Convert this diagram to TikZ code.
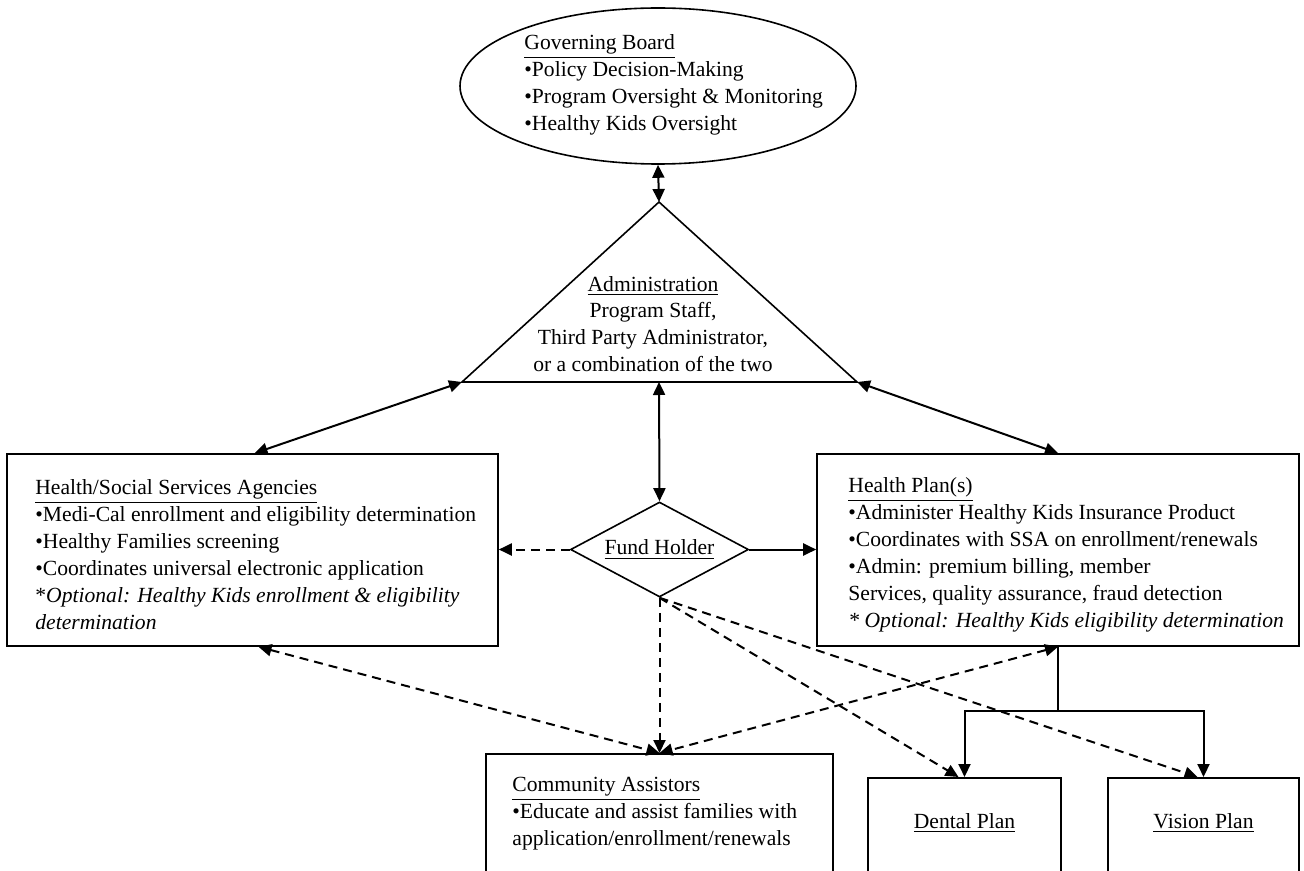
\documentclass[tikz,border=0pt]{standalone}
\usepackage{fontspec}
\setmainfont{Liberation Serif}
\usetikzlibrary{shapes.geometric,arrows.meta}

\begin{document}
\begin{tikzpicture}[x=0.5pt,y=-0.5pt,
    txt/.style={font=\fontsize{10.8pt}{13.45pt}\selectfont,inner sep=0pt,align=left},
    shp/.style={draw,line width=0.8pt,inner sep=0pt},
    arr/.style={line width=1pt,-{Triangle[length=6.5pt,width=6pt]}},
    dbl/.style={line width=1pt,{Triangle[length=6.5pt,width=6pt]}-{Triangle[length=6.5pt,width=6pt]}},
    dsh/.style={dash pattern=on 4.5pt off 3pt}]
    \useasboundingbox (0,0) rectangle (1304,871);
    \clip (0,0) rectangle (1304,871);
    \node[shp,ellipse,minimum width=198pt,minimum height=78pt] (board) at (658,86) {};
    \node[txt,anchor=west] (boardtxt) at (524,85) {\underline{Governing Board}\\
        •Policy Decision-Making\\
        •Program Oversight \& Monitoring\\
        •Healthy Kids Oversight};
    \coordinate (adminL) at (462,382);
    \coordinate (adminT) at (659,202);
    \coordinate (adminR) at (857,382);
    \coordinate (adminB) at (659,382);
    \draw[line width=0.8pt] (adminL) -- (adminT) -- (adminR) -- cycle;
    \node[txt,align=center] (admintxt) at (653,324) {\underline{Administration}\\
        Program Staff,\\
        Third Party Administrator,\\
        or a combination of the two};
    \node[shp,diamond,minimum width=89pt,minimum height=47.5pt] (fund) at (659.5,549.5) {};
    \node[txt] (fundtxt) at (659.5,549.5) {\underline{Fund Holder}};
    \node[shp,rectangle,minimum width=245.5pt,minimum height=96pt] (ssa) at (252.5,550) {};
    \node[txt,anchor=west] (ssatxt) at (35,554.5) {\underline{Health/Social Services Agencies}\\
        •Medi-Cal enrollment and eligibility determination\\
        •Healthy Families screening\\
        •Coordinates universal electronic application\\
        *\textit{Optional: Healthy Kids enrollment \& eligibility}\\
        \textit{determination}};
    \node[shp,rectangle,minimum width=241pt,minimum height=96pt] (plan) at (1058,550) {};
    \node[txt,anchor=west] (plantxt) at (848,555) {\underline{Health Plan(s)}\\
        •Administer Healthy Kids Insurance Product\\
        •Coordinates with SSA on enrollment/renewals\\
        •Admin: premium billing, member\\
        Services, quality assurance, fraud detection\\
        \textit{* Optional: Healthy Kids eligibility determination}};
    \node[shp,rectangle,anchor=north,minimum width=173.5pt,minimum height=100pt] (comm) at (659.5,753) {};
    \node[txt,anchor=west] (commtxt) at (512,814) {\underline{Community Assistors}\\
        •Educate and assist families with\\
        application/enrollment/renewals};
    \node[shp,rectangle,anchor=north,minimum width=96.5pt,minimum height=100pt] (dental) at (964.5,777) {};
    \node[txt] (dentaltxt) at (964.5,823) {\underline{Dental Plan}};
    \node[shp,rectangle,anchor=north,minimum width=95.5pt,minimum height=100pt] (vision) at (1203.5,777) {};
    \node[txt] (visiontxt) at (1203.5,823) {\underline{Vision Plan}};
    \coordinate (split) at (1058,711);
    \draw[dbl] (board.south) -- (adminT);
    \draw[dbl] (adminB) -- (fund.north);
    \draw[dbl] ([xshift=1pt]ssa.north) -- (adminL);
    \draw[dbl] (adminR) -- (plan.north);
    \draw[arr,dsh] (fund.west) -- (fund.west -| ssa.east);
    \draw[arr] (fund.east) -- (fund.east -| plan.west);
    \draw[arr,dsh] (fund.south) -- (comm.north);
    \draw[arr,dsh] (fund.south) -- ([xshift=-3pt]dental.north);
    \draw[arr,dsh] (fund.south) -- ([xshift=-3pt]vision.north);
    \draw[dbl,dsh] ([xshift=3pt]ssa.south) -- (comm.north);
    \draw[dbl,dsh] (plan.south) -- (comm.north);
    \draw[line width=1pt] (plan.south) -- (split);
    \draw[arr] (split) -| (dental.north);
    \draw[arr] (split) -| (vision.north);
\end{tikzpicture}
\end{document}
